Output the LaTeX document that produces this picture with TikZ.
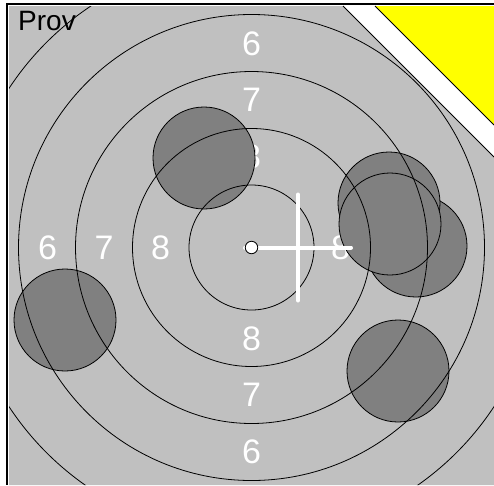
\documentclass[tikz,border=0pt]{standalone}
\usepackage{xcolor}
\definecolor{targetgrey}{HTML}{C0C0C0}
\definecolor{hitgrey}{HTML}{808080}
\definecolor{cornerylw}{HTML}{FFFF00}
\usepackage{fontspec}
\setmainfont{Liberation Sans}
\usepackage{tikz}
\usetikzlibrary{positioning}

\begin{document}
\begin{tikzpicture}[
  x=1pt, y=-1pt,
  ring/.style={draw=black, line width=0.8pt, circle, inner sep=0pt, minimum size=#1},
  hit/.style={draw=black, fill=hitgrey, line width=0.8pt, circle, inner sep=0pt, minimum size=102pt},
  score/.style={text=white, font=\fontsize{34}{40}\selectfont, inner sep=0pt},
  aim/.style={draw=white, line width=4pt, line cap=round}
]
  \useasboundingbox (0,0) rectangle (494,485);
  \coordinate (ctr) at (251.5,247.5);
  \coordinate (aimc) at (298,247.5);
  \begin{scope}
    \clip (9,6) -- (343,6) -- (494,157) -- (494,485) -- (9,485) -- cycle;
    \fill[targetgrey] (9,6) -- (343,6) -- (494,157) -- (494,485) -- (9,485) -- cycle;
    \foreach \s/\r in {8/91,7/147.5,6/204} {
      \node[score] (top\s) at ([yshift=\r pt]ctr) {\s};
      \node[score] (bot\s) at ([yshift=-\r pt]ctr) {\s};
      \node[score] (lft\s) at ([xshift=-\r pt]ctr) {\s};
    }
    \node[score] (rgt8) at ([xshift=89pt]ctr) {8};
    \node[hit] (hit1) at (65,320) {};
    \node[hit] (hit2) at (204,158) {};
    \node[hit] (hit3) at (398,371) {};
    \node[hit] (hit4) at (416,246) {};
    \node[hit] (hit5) at (389,203) {};
    \node[hit] (hit6) at (390,224) {};
    \foreach \d [count=\i] in {125,238,352,466,580}
      \node[ring=\d pt] (ring\i) at (ctr) {};
    \draw[aim] ([xshift=-53pt]aimc) -- ([xshift=53pt]aimc);
    \draw[aim] ([yshift=53pt]aimc) -- ([yshift=-53pt]aimc);
    \node[circle, draw=black, fill=white, line width=0.8pt, inner sep=0pt, minimum size=12.5pt] (bull) at (ctr) {};
  \end{scope}
  \draw[line width=0.8pt] (343,6) -- (494,157);
  \fill[cornerylw] (375,6) -- (494,6) -- (494,125) -- cycle;
  \draw[line width=0.8pt] (375,6) -- (494,125);
  \draw[line width=1.2pt] (494,4) -- (7,4) -- (7,485);
  \node[anchor=base west, inner sep=0pt, font=\fontsize{28}{34}\selectfont] (title) at (18,30) {Prov};
\end{tikzpicture}
\end{document}
